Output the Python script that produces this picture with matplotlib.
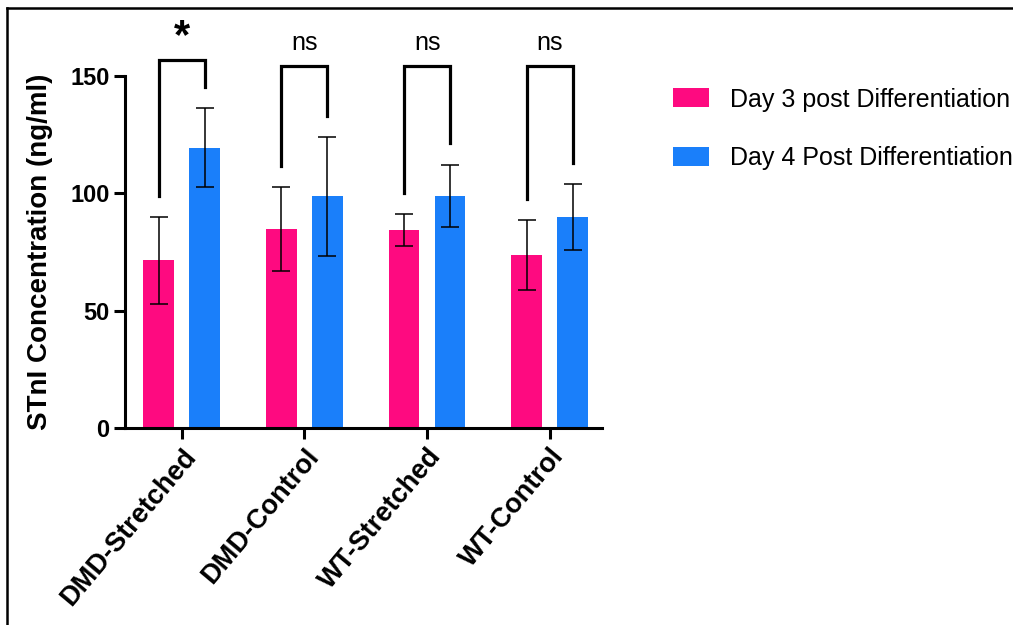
import numpy as np
import matplotlib
matplotlib.use("Agg")
from matplotlib import pyplot as plt
from matplotlib.lines import Line2D

plt.rcParams["font.family"] = ["Liberation Sans", "DejaVu Sans"]

groups = ["DMD-Stretched", "DMD-Control", "WT-Stretched", "WT-Control"]
series = ["Day 3 post Differentiation", "Day 4 Post Differentiation"]
day3_mean = [71.5, 84.7, 84.3, 73.7]
day3_err = [18.5, 17.8, 6.8, 14.9]
day4_mean = [119.4, 98.7, 98.9, 89.8]
day4_err = [16.7, 25.2, 13.3, 14.0]
significance = ["*", "ns", "ns", "ns"]
bracket_top = [156.5, 154.2, 154.2, 154.2]

PINK = "#fe0a80"
BLUE = "#1a7ffa"

fig = plt.figure(figsize=(10.13, 6.25), dpi=100)
ax = fig.add_axes([0.1234, 0.3147, 0.4706, 0.5642])

x = np.arange(len(groups))
offset = 0.1875
width = 0.25

ax.bar(x - offset, day3_mean, width, color=PINK, label=series[0], zorder=2)
ax.bar(x + offset, day4_mean, width, color=BLUE, label=series[1], zorder=2)
ax.errorbar(x - offset, day3_mean, yerr=day3_err, fmt="none", ecolor="black",
            elinewidth=1.1, capsize=6.5, capthick=1.1, zorder=3)
ax.errorbar(x + offset, day4_mean, yerr=day4_err, fmt="none", ecolor="black",
            elinewidth=1.1, capsize=6.5, capthick=1.1, zorder=3)

# significance brackets above each pair
gap = 9
for i in range(len(groups)):
    xl, xr = x[i] - offset, x[i] + offset
    yl = day3_mean[i] + day3_err[i] + gap
    yr = day4_mean[i] + day4_err[i] + gap
    top = bracket_top[i]
    ax.add_line(Line2D([xl, xl, xr, xr], [yl, top, top, yr], color="black",
                       lw=2.3, clip_on=False, solid_joinstyle="miter"))
    if significance[i] == "*":
        ax.text(x[i], top + 1.5, "*", ha="center", va="bottom",
                fontsize=30, fontweight="bold", clip_on=False)
    else:
        ax.text(x[i], top + 4.5, significance[i], ha="center", va="bottom",
                fontsize=18, clip_on=False)

ax.set_xlim(-0.462, 3.423)
ax.set_ylim(0, 150)
ax.set_yticks([0, 50, 100, 150])
ax.set_xticks(x)
ax.set_xticklabels(groups, rotation=50, ha="right", rotation_mode="anchor",
                   fontweight="bold", fontsize=19.5)
for lab in ax.get_yticklabels():
    lab.set_fontweight("bold")
    lab.set_fontsize(17)

ax.spines["top"].set_visible(False)
ax.spines["right"].set_visible(False)
for sp in ("left", "bottom"):
    ax.spines[sp].set_linewidth(2.2)
ax.tick_params(axis="both", direction="out", length=8, width=2.2, pad=3)

ax.set_ylabel("STnI Concentration (ng/ml)", fontsize=20, fontweight="bold")
ax.yaxis.set_label_coords(-0.152, 0.5)

fig.legend(loc="upper left", bbox_to_anchor=(0.664, 0.860), frameon=False,
           fontsize=18, handlelength=1.45, handleheight=0.8, handletextpad=0.85,
           labelspacing=1.4, borderpad=0, borderaxespad=0)

# frame lines of the cropped figure
fig.add_artist(Line2D([7 / 1013, 7 / 1013], [0, 1 - 8 / 625], color="black",
                      lw=1.8, transform=fig.transFigure))
fig.add_artist(Line2D([7 / 1013, 1], [1 - 8 / 625, 1 - 8 / 625], color="black",
                      lw=1.8, transform=fig.transFigure))

fig.savefig("out.png", dpi=100)
